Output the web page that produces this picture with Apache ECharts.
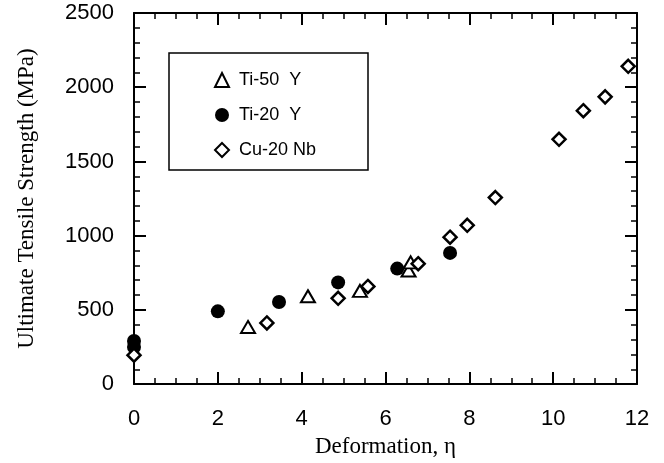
<!DOCTYPE html>
<html lang="en">
<head>
    <meta charset="UTF-8">
    <title>Ultimate Tensile Strength</title>
    <script src="https://cdn.jsdelivr.net/npm/echarts@6/dist/echarts.min.js"></script>
</head>
<body style="margin:0;background:#fff;">
<div id="main" style="width: 664px;height:463px;"></div>
<script type="text/javascript">
    // data: [deformation, UTS in MPa]
    var ti50 = [[2.72, 385], [4.15, 592], [5.39, 628], [6.55, 765], [6.6, 820]];
    var ti20 = [[0, 290], [0, 250], [2, 490], [3.46, 553], [4.87, 685], [6.28, 778], [7.54, 884]];
    var cu20 = [[0, 195], [3.17, 412], [4.87, 578], [5.58, 658], [6.78, 811], [7.54, 990],
        [7.95, 1070], [8.62, 1257], [10.14, 1649], [10.72, 1842], [11.24, 1935], [11.79, 2141]];
    var names = ['Ti-50  Y', 'Ti-20  Y', 'Cu-20 Nb'];

    var myChart = echarts.init(document.getElementById('main'));

    var sans = 'Liberation Sans';
    var serif = 'Liberation Serif';

    // shared look of the four frame axes
    function frame(extra) {
        var base = {
            type: 'value',
            axisLine: {show: true, onZero: false, lineStyle: {color: '#000', width: 2}},
            axisTick: {show: true, inside: true, length: 12, lineStyle: {color: '#000', width: 2}},
            minorTick: {show: true, length: 6, lineStyle: {color: '#000', width: 1.5}},
            splitLine: {show: false},
            axisLabel: {show: false}
        };
        return Object.assign(base, extra);
    }

    var option = {
        backgroundColor: '#fff',
        animation: false,
        grid: {left: 134, right: 27, top: 13, bottom: 73},
        graphic: [{
            type: 'rect',
            shape: {x: 169, y: 53, width: 199, height: 117},
            style: {fill: 'none', stroke: '#000', lineWidth: 1.5}
        }],
        legend: {
            orient: 'vertical',
            left: 209,
            top: 66,
            itemWidth: 14,
            itemHeight: 14,
            itemGap: 17,
            data: names,
            textStyle: {fontFamily: sans, fontSize: 18, color: '#000', padding: [0, 0, 0, 5]}
        },
        xAxis: [
            frame({
                min: 0, max: 12, interval: 2,
                minorTick: {show: true, splitNumber: 4, length: 6, lineStyle: {color: '#000', width: 1.5}},
                axisLabel: {show: true, margin: 24, fontFamily: sans, fontSize: 22, color: '#000'},
                name: 'Deformation, \u03b7',
                nameLocation: 'middle',
                nameGap: 45,
                nameTextStyle: {fontFamily: serif, fontSize: 23, color: '#000'}
            }),
            frame({
                position: 'top', min: 0, max: 12, interval: 2,
                minorTick: {show: true, splitNumber: 4, length: 6, lineStyle: {color: '#000', width: 1.5}}
            })
        ],
        yAxis: [
            frame({
                min: 0, max: 2500, interval: 500,
                minorTick: {show: true, splitNumber: 5, length: 6, lineStyle: {color: '#000', width: 1.5}},
                axisLabel: {
                    show: true, margin: 20, fontFamily: sans, fontSize: 22, color: '#000',
                    formatter: function (v) { return String(v); }
                },
                name: 'Ultimate Tensile Strength (MPa)',
                nameLocation: 'middle',
                nameGap: 96,
                nameTextStyle: {fontFamily: serif, fontSize: 23, color: '#000'}
            }),
            frame({
                position: 'right', min: 0, max: 2500, interval: 500,
                minorTick: {show: true, splitNumber: 5, length: 6, lineStyle: {color: '#000', width: 1.5}}
            })
        ],
        series: [
            {
                name: names[0],
                type: 'scatter',
                symbol: 'triangle',
                symbolSize: [14, 12],
                itemStyle: {color: '#fff', borderColor: '#000', borderWidth: 2, opacity: 1},
                data: ti50
            },
            {
                name: names[1],
                type: 'scatter',
                symbol: 'circle',
                symbolSize: 14,
                itemStyle: {color: '#000', opacity: 1},
                data: ti20
            },
            {
                name: names[2],
                type: 'scatter',
                symbol: 'diamond',
                symbolSize: 13,
                itemStyle: {color: '#fff', borderColor: '#000', borderWidth: 2.5, opacity: 1},
                data: cu20
            }
        ]
    };

    myChart.setOption(option);
</script>
</body>
</html>
